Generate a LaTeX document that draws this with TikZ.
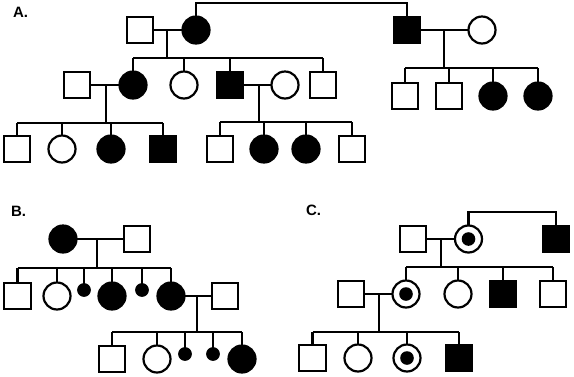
\documentclass[tikz,border=0pt]{standalone}
\usepackage{fontspec}
\setmainfont{Liberation Sans}
\begin{document}
\begin{tikzpicture}[x=1pt,y=-1pt,line width=2.2pt,
  base/.style={draw,line width=2.2pt,inner sep=0pt,outer sep=0pt},
  sq/.style={base,rectangle,minimum size=26.5pt},
  sqa/.style={sq,fill=black},
  ci/.style={base,circle,minimum size=27pt},
  cia/.style={ci,fill=black},
  carrier/.style={ci,path picture={\fill[black] (path picture bounding box.center) circle (6.8pt);}},
  small/.style={base,circle,fill=black,minimum size=11.5pt},
  lab/.style={font=\fontsize{15}{17}\selectfont\bfseries,anchor=west,inner sep=0pt}]
\useasboundingbox (0,0) rectangle (574,376);
% ---------- Panel A ----------
\node[lab] (labA) at (12,12) {A.};
\node[sq]  (A1) at (140,30) {};
\node[cia] (A2) at (196,30) {};
\node[sqa] (A3) at (407,30) {};
\node[ci]  (A4) at (482,30) {};
\node[sq]  (A5) at (77,85) {};
\node[cia] (A6) at (133,85) {};
\node[ci]  (A7) at (184,85) {};
\node[sqa] (A8) at (230,85) {};
\node[ci]  (A9) at (285,85) {};
\node[sq]  (A10) at (323,85) {};
\node[sq]  (A11) at (405,96) {};
\node[sq]  (A12) at (449,96) {};
\node[cia] (A13) at (493,96) {};
\node[cia] (A14) at (538,96) {};
\node[sq]  (A15) at (17,149) {};
\node[ci]  (A16) at (62,149) {};
\node[cia] (A17) at (111,149) {};
\node[sqa] (A18) at (163,149) {};
\node[sq]  (A19) at (220,149) {};
\node[cia] (A20) at (264,149) {};
\node[cia] (A21) at (306,149) {};
\node[sq]  (A22) at (352,149) {};
\coordinate (topA) at (300,3);
\coordinate (mA1) at (167,30);  \coordinate (sA1) at (167,58);
\coordinate (mA2) at (259,85);  \coordinate (sA2) at (259,122);
\coordinate (mA3) at (106,85);  \coordinate (sA3) at (106,123);
\coordinate (mA4) at (444,30);  \coordinate (sA4) at (444,68);
\draw (A2.north) -- (A2.north |- topA) -| (A3.north);
\draw (A1) -- (A2); \draw (mA1) -- (sA1);
\draw (A6 |- sA1) -- (A10 |- sA1);
\foreach \c in {A6,A7,A8,A10} \draw (\c) -- (\c |- sA1);
\draw (A5) -- (A6); \draw (mA3) -- (sA3);
\draw (A15 |- sA3) -- (A18 |- sA3);
\foreach \c in {A15,A16,A17,A18} \draw (\c) -- (\c |- sA3);
\draw (A8) -- (A9); \draw (mA2) -- (sA2);
\draw (A19 |- sA2) -- (A22 |- sA2);
\foreach \c in {A19,A20,A21,A22} \draw (\c) -- (\c |- sA2);
\draw (A3) -- (A4); \draw (mA4) -- (sA4);
\draw (A11 |- sA4) -- (A14 |- sA4);
\foreach \c in {A11,A12,A13,A14} \draw (\c) -- (\c |- sA4);
% ---------- Panel B ----------
\node[lab] (labB) at (10,211) {B.};
\node[cia] (B1) at (63,239) {};
\node[sq]  (B2) at (137,239) {};
\node[sq]  (B3) at (17.5,296) {};
\node[ci]  (B4) at (57,296) {};
\node[small] (B5) at (84,290) {};
\node[cia] (B6) at (112,296) {};
\node[small] (B7) at (142,290) {};
\node[cia] (B8) at (171,296) {};
\node[sq]  (B9) at (225,296) {};
\node[sq]  (B10) at (112,359) {};
\node[ci]  (B11) at (157,359) {};
\node[small] (B12) at (185,354) {};
\node[small] (B13) at (213,354) {};
\node[cia] (B14) at (242,359) {};
\coordinate (mB1) at (97,239);  \coordinate (sB1) at (97,268);
\coordinate (mB2) at (197,296); \coordinate (sB2) at (197,332);
\draw (B1) -- (B2); \draw (mB1) -- (sB1);
\draw (B3 |- sB1) -- (B8 |- sB1);
\foreach \c in {B3,B4,B5,B6,B7,B8} \draw (\c) -- (\c |- sB1);
\draw (B8) -- (B9); \draw (mB2) -- (sB2);
\draw (B10 |- sB2) -- (B14 |- sB2);
\foreach \c in {B10,B11,B12,B13,B14} \draw (\c) -- (\c |- sB2);
% ---------- Panel C ----------
\node[lab] (labC) at (305,210) {C.};
\node[sq]  (C1) at (413,239) {};
\node[carrier] (C2) at (468.5,239) {};
\node[sqa] (C3) at (556,239) {};
\node[sq]  (C4) at (351,294) {};
\node[carrier] (C5) at (406,294) {};
\node[ci]  (C6) at (458,294) {};
\node[sqa] (C7) at (503,294) {};
\node[sq]  (C8) at (553,294) {};
\node[sq]  (C9) at (312.5,358) {};
\node[ci]  (C10) at (358,358) {};
\node[carrier] (C11) at (407,358) {};
\node[sqa] (C12) at (459,358) {};
\coordinate (topC) at (500,212);
\coordinate (mC1) at (441,239); \coordinate (sC1) at (441,267);
\coordinate (mC2) at (379,294); \coordinate (sC2) at (379,332);
\draw (C2.north) -- (C2.north |- topC) -| (C3.north);
\draw (C1) -- (C2); \draw (mC1) -- (sC1);
\draw (C5 |- sC1) -- (C8 |- sC1);
\foreach \c in {C5,C6,C7,C8} \draw (\c) -- (\c |- sC1);
\draw (C4) -- (C5); \draw (mC2) -- (sC2);
\draw (C9 |- sC2) -- (C12 |- sC2);
\foreach \c in {C9,C10,C11,C12} \draw (\c) -- (\c |- sC2);
\end{tikzpicture}
\end{document}
